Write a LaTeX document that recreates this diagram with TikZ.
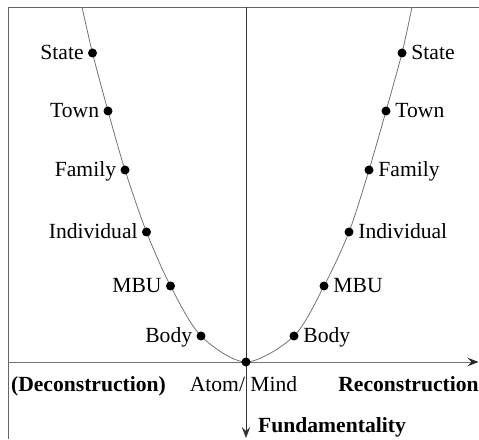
\documentclass[tikz,border=0pt]{standalone}
\usepackage{fontspec}
\setmainfont{Liberation Serif}
\usetikzlibrary{arrows.meta}
\begin{document}
\begin{tikzpicture}[x=1pt,y=1pt,
  framelinestyle/.style={draw=black!60,line width=0.9pt},
  axisv/.style={draw=black!80,line width=0.9pt,-{Stealth[length=11pt,width=8.5pt,inset=4pt]}},
  axish/.style={draw=black!55,line width=0.9pt,-{Stealth[length=11pt,width=8.5pt,inset=4pt,color=black!85]}},
  curvestyle/.style={draw=black!55,line width=0.8pt},
  dotstyle/.style={circle,fill=black,inner sep=0pt,minimum size=9pt},
  lbl/.style={font=\fontsize{21.6}{24}\selectfont,inner sep=0pt,text height=0.68em,text depth=0pt},
  bottomlbl/.style={font=\fontsize{21.6}{24}\selectfont,inner sep=0pt,anchor=base},
  boldlbl/.style={bottomlbl,font=\fontsize{21.6}{24}\selectfont\bfseries}
]
\useasboundingbox (0,0) rectangle (479,439);
% frame
\coordinate (fbl) at (8,0);
\coordinate (ftl) at (8,432);
\coordinate (ftr) at (479,432);
\draw[framelinestyle] (fbl) -- (ftl) -- (ftr);
% axes
\coordinate (O) at (246,77);
\coordinate (vtop) at (246,432);
\coordinate (vbot) at (246,1);
\coordinate (hleft) at (8,77);
\coordinate (hright) at (478.5,77);
\draw[axish] (hleft) -- (hright);
\draw[axisv] (vtop) -- (vbot);
% curve points
\coordinate (Ltop) at (82,432);
\coordinate (Rtop) at (412,432);
\coordinate (L1) at (92.5,386);
\coordinate (L2) at (108,328);
\coordinate (L3) at (125,269);
\coordinate (L4) at (146.5,207);
\coordinate (L5) at (170.5,153);
\coordinate (L6) at (201,103);
\coordinate (R1) at (402,386);
\coordinate (R2) at (386,328);
\coordinate (R3) at (369,269);
\coordinate (R4) at (349,207);
\coordinate (R5) at (324,153);
\coordinate (R6) at (294,103);
\draw[curvestyle] plot[smooth] coordinates {(Ltop) (L1) (L2) (L3) (L4) (L5) (L6) (O) (R6) (R5) (R4) (R3) (R2) (R1) (Rtop)};
% dots
\foreach \p in {L1,L2,L3,L4,L5,L6,R1,R2,R3,R4,R5,R6,O} {\node[dotstyle] (d\p) at (\p) {};}
% labels
\node[lbl,anchor=east] (tL1) at ([xshift=-4pt,yshift=-3pt]dL1.west) {State};
\node[lbl,anchor=east] (tL2) at ([xshift=-4pt,yshift=-3pt]dL2.west) {Town};
\node[lbl,anchor=east] (tL3) at ([xshift=-4pt,yshift=-3pt]dL3.west) {Family};
\node[lbl,anchor=east] (tL4) at ([xshift=-4pt,yshift=-3pt]dL4.west) {Individual};
\node[lbl,anchor=east] (tL5) at ([xshift=-4pt,yshift=-3pt]dL5.west) {MBU};
\node[lbl,anchor=east] (tL6) at ([xshift=-4pt,yshift=-3pt]dL6.west) {Body};
\node[lbl,anchor=west] (tR1) at ([xshift=4.5pt,yshift=-3pt]dR1.east) {State};
\node[lbl,anchor=west] (tR2) at ([xshift=4.5pt,yshift=-3pt]dR2.east) {Town};
\node[lbl,anchor=west] (tR3) at ([xshift=4.5pt,yshift=-3pt]dR3.east) {Family};
\node[lbl,anchor=west] (tR4) at ([xshift=4.5pt,yshift=-3pt]dR4.east) {Individual};
\node[lbl,anchor=west] (tR5) at ([xshift=4.5pt,yshift=-3pt]dR5.east) {MBU};
\node[lbl,anchor=west] (tR6) at ([xshift=4.5pt,yshift=-3pt]dR6.east) {Body};
\node[boldlbl] (decon) at (88.5,48) {(Deconstruction)};
\node[bottomlbl] (atom) at (243.5,48) {Atom/ Mind};
\node[boldlbl] (recon) at (408.5,48) {Reconstruction};
\node[boldlbl,anchor=base west] (fund) at (258,7) {Fundamentality};
\end{tikzpicture}
\end{document}
